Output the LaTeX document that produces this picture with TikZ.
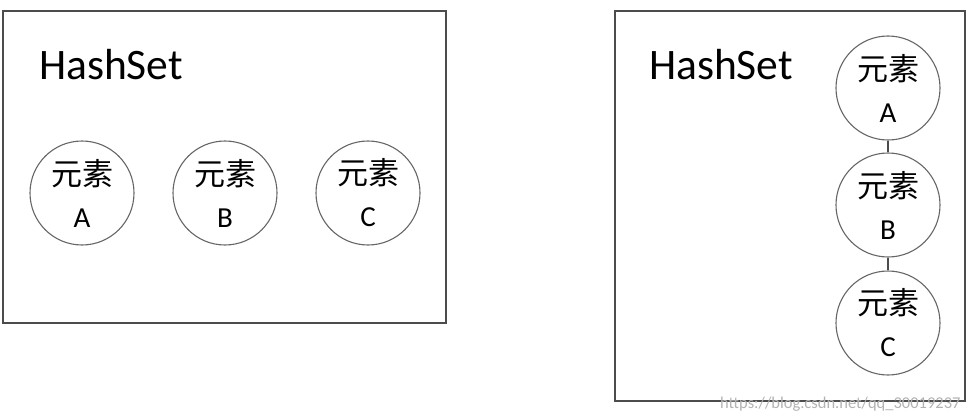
\documentclass[tikz,border=0pt]{standalone}
\usepackage{fontspec}
\setmainfont{Carlito}
\newfontfamily\cjkf{Noto Sans CJK SC}
\begin{document}
\begin{tikzpicture}[x=1pt,y=-1pt,
  setbox/.style={draw=black!70,line width=1.3pt},
  elem/.style={circle,draw=black!60,line width=1.1pt,minimum size=104pt,inner sep=0pt,align=center,font=\fontsize{29}{42}\selectfont},
  title/.style={anchor=base west,inner sep=0pt,font=\fontsize{43.5}{43.5}\selectfont},
  link/.style={draw=black!70,line width=1.1pt}]
\useasboundingbox (0,0) rectangle (972,420);
% left set
\draw[setbox] (3,11) rectangle (446,323);
\node[title] (t1) at (39,79) {HashSet};
\node[elem] (a1) at (82,193) {{\cjkf\fontsize{31}{42}\selectfont 元素}\\A};
\node[elem] (b1) at (225,193) {{\cjkf\fontsize{31}{42}\selectfont 元素}\\B};
\node[elem] (c1) at (368,193) {{\cjkf\fontsize{31}{42}\selectfont 元素}\\C};
% right set
\draw[setbox] (615,11) rectangle (965,401);
\node[title] (t2) at (649,79) {HashSet};
\node[elem] (a2) at (888,88) {{\cjkf\fontsize{31}{42}\selectfont 元素}\\A};
\node[elem] (b2) at (888,205) {{\cjkf\fontsize{31}{42}\selectfont 元素}\\B};
\node[elem] (c2) at (888,323) {{\cjkf\fontsize{31}{42}\selectfont 元素}\\C};
\draw[link] (a2) -- (b2);
\draw[link] (b2) -- (c2);
% watermark
\node[font=\fontsize{16.5}{16.5}\selectfont,text=black!30,anchor=west,inner sep=0pt] (wm) at (720,404) {https://blog.csdn.net/qq\_30019237};
\end{tikzpicture}
\end{document}
